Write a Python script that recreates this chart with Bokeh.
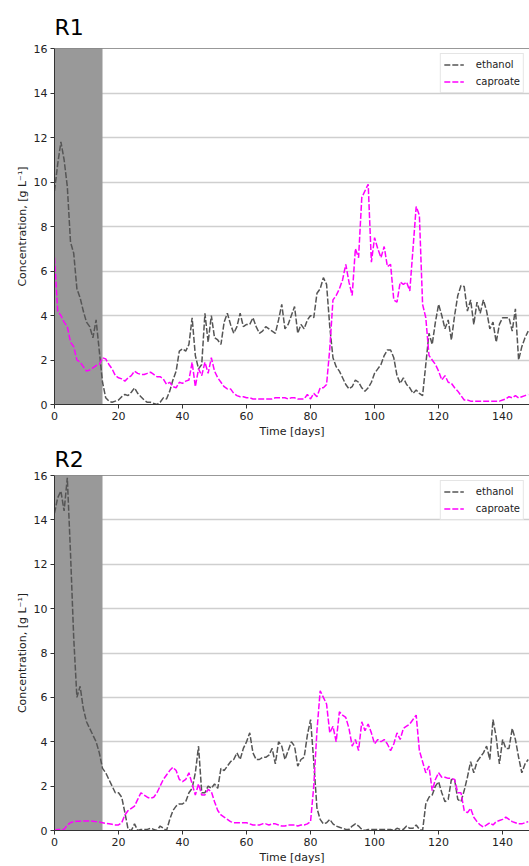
from bokeh.plotting import figure
from bokeh.layouts import column
from bokeh.models import Range1d, Span, FixedTicker
from bokeh.embed import file_html
from bokeh.resources import INLINE

# ---------------- data ----------------
days = list(range(149))

r1_ethanol = [
    9.6, 10.8, 11.8, 11.0, 9.8, 7.3, 6.8, 5.2, 4.8, 4.2,
    3.7, 3.5, 3.0, 3.8, 2.4, 1.0, 0.3, 0.15, 0.1, 0.15,
    0.2, 0.35, 0.45, 0.4, 0.55, 0.75, 0.5, 0.35, 0.2, 0.1,
    0.1, 0.05, 0.0, 0.1, 0.3, 0.25, 0.6, 1.1, 1.5, 2.4,
    2.5, 2.4, 2.7, 3.9, 2.2, 1.6, 1.8, 4.1, 2.8, 4.0,
    3.0, 2.9, 2.7, 3.7, 4.1, 3.6, 3.2, 3.5, 4.1, 3.5,
    3.6, 3.6, 3.9, 3.5, 3.2, 3.3, 3.5, 3.4, 3.3, 3.2,
    3.8, 4.5, 3.4, 3.6, 4.0, 4.4, 3.2, 3.6, 3.4, 3.8,
    4.0, 3.9, 5.0, 5.2, 5.7, 5.4, 3.5, 2.1, 1.7, 1.5,
    1.2, 0.9, 0.7, 0.8, 1.1, 1.0, 0.75, 0.6, 0.75, 1.0,
    1.4, 1.6, 1.8, 2.2, 2.45, 2.45, 2.1, 1.3, 0.95, 1.2,
    0.9, 0.75, 0.5, 0.65, 0.5, 0.4, 1.8, 3.2, 2.7, 3.7,
    4.5, 4.0, 3.4, 3.8, 2.9, 4.0, 4.9, 5.35, 5.3, 4.2,
    4.7, 3.6, 4.6, 4.1, 4.7, 4.2, 3.4, 3.7, 2.8, 3.6,
    3.9, 3.9, 3.9, 3.3, 4.3, 2.0, 2.6, 3.0, 3.3,
]

r1_caproate = [
    6.6, 4.2, 4.0, 3.7, 3.5, 2.8, 2.6, 2.0, 1.9, 1.7,
    1.5, 1.55, 1.65, 1.75, 1.8, 2.1, 2.05, 1.8, 1.6, 1.3,
    1.2, 1.15, 1.05, 1.2, 1.3, 1.5, 1.4, 1.35, 1.35, 1.4,
    1.45, 1.35, 1.25, 1.25, 1.15, 0.9, 1.0, 0.8, 0.75, 1.0,
    0.95, 1.05, 1.1, 1.9, 0.8, 1.6, 1.3, 1.9, 1.4, 2.1,
    1.5, 1.2, 1.0, 0.8, 0.7, 0.7, 0.5, 0.4, 0.35, 0.35,
    0.3, 0.3, 0.25, 0.25, 0.25, 0.25, 0.25, 0.25, 0.25, 0.3,
    0.3, 0.3, 0.3, 0.25, 0.3, 0.3, 0.25, 0.25, 0.25, 0.45,
    0.25, 0.5, 0.35, 0.75, 0.75, 0.9, 2.5, 4.7, 4.9, 5.2,
    5.6, 6.3, 5.5, 4.9, 7.0, 6.6, 9.3, 9.6, 9.9, 6.4,
    7.5, 7.0, 6.6, 7.1, 6.2, 6.3, 4.7, 4.6, 5.5, 5.4,
    5.5, 5.1, 7.0, 8.9, 8.5, 4.5, 3.9, 2.2, 2.0, 1.8,
    1.5, 1.1, 1.3, 1.0, 0.95, 0.75, 0.6, 0.4, 0.2, 0.2,
    0.15, 0.15, 0.15, 0.15, 0.15, 0.15, 0.15, 0.15, 0.15, 0.15,
    0.2, 0.25, 0.35, 0.3, 0.4, 0.3, 0.35, 0.4, 0.45,
]

r2_ethanol = [
    14.3, 15.0, 15.3, 14.4, 15.9, 12.5, 8.7, 6.0, 6.5, 5.5,
    4.9, 4.6, 4.3, 4.0, 3.5, 2.8, 2.6, 2.3, 2.0, 1.7,
    1.7, 1.5, 0.8, 0.05, 0.0, 0.3, 0.0, 0.05, 0.05, 0.05,
    0.1, 0.05, 0.0, 0.2, 0.1, 0.0, 0.5, 0.9, 1.1, 1.2,
    1.2, 1.3, 1.7, 1.9, 2.6, 3.8, 1.7, 1.7, 2.0, 1.9,
    2.1, 1.9, 2.8, 2.7, 2.9, 3.1, 3.2, 3.5, 3.2, 3.7,
    4.0, 4.4, 3.5, 3.2, 3.2, 3.3, 3.3, 3.4, 3.7, 3.0,
    4.0, 3.8, 3.2, 3.6, 4.0, 3.8, 2.9, 3.2, 3.3, 4.3,
    5.0, 3.1, 1.0, 0.5, 0.3, 0.35, 0.5, 0.3, 0.2, 0.15,
    0.1, 0.05, 0.05, 0.2, 0.3, 0.2, 0.05, 0.0, 0.05, 0.05,
    0.05, 0.05, 0.05, 0.05, 0.05, 0.05, 0.0, 0.1, 0.05, 0.05,
    0.2, 0.1, 0.1, 0.25, 0.05, 0.0, 1.2, 1.5, 1.6, 2.0,
    2.2, 1.7, 1.3, 1.4, 2.3, 2.3, 1.4, 1.3, 1.8, 2.4,
    3.1, 2.6, 3.1, 3.3, 3.5, 3.8, 3.2, 5.0, 4.2, 3.0,
    4.1, 3.7, 3.7, 4.6, 4.1, 3.3, 2.6, 3.0, 3.2,
]

r2_caproate = [
    0.0, 0.05, 0.05, 0.05, 0.25, 0.35, 0.4, 0.42, 0.42, 0.43,
    0.43, 0.43, 0.42, 0.4, 0.38, 0.35, 0.32, 0.3, 0.28, 0.25,
    0.25, 0.35, 0.7, 0.9, 1.0, 1.1, 1.4, 1.7, 1.6, 1.5,
    1.45, 1.5, 1.7, 2.0, 2.3, 2.5, 2.7, 2.85, 2.7, 2.3,
    2.2, 2.3, 2.6, 2.1, 1.6, 2.1, 1.6, 1.6, 1.85, 1.75,
    1.3, 0.9, 0.7, 0.6, 0.5, 0.4, 0.35, 0.35, 0.35, 0.35,
    0.35, 0.3, 0.25, 0.25, 0.25, 0.3, 0.3, 0.25, 0.3, 0.3,
    0.25, 0.2, 0.2, 0.25, 0.25, 0.25, 0.2, 0.25, 0.25, 0.3,
    0.4, 2.0, 4.5, 6.3, 6.0, 5.7, 4.4, 4.7, 4.0, 5.35,
    5.2, 5.1, 4.6, 3.8, 4.1, 3.6, 4.9, 4.5, 4.8, 4.4,
    3.9, 4.1, 4.0, 4.1, 3.9, 3.6, 3.9, 4.4, 4.1, 4.6,
    4.7, 4.8, 5.0, 5.2, 3.6, 3.1, 2.6, 2.9, 1.8, 2.3,
    2.6, 2.4, 2.4, 2.35, 2.35, 2.3, 1.7, 1.7, 0.9, 0.8,
    1.0, 0.6, 0.4, 0.25, 0.15, 0.25, 0.35, 0.25, 0.4, 0.45,
    0.5, 0.6, 0.5, 0.4, 0.35, 0.3, 0.3, 0.35, 0.4,
]

shade_start = 0
shade_end = 15
x_ticks = [0, 20, 40, 60, 80, 100, 120, 140]
y_ticks = [0, 2, 4, 6, 8, 10, 12, 14, 16]
x_min, x_max = 0, 148.4
y_min, y_max = 0, 16

FONT = "DejaVu Sans"
ETH_COLOR = "#555555"
CAP_COLOR = "#ff00ff"


def make_panel(title, eth, cap, height, border_top, border_bottom, title_standoff):
    p = figure(width=529, height=height, output_backend="svg", toolbar_location=None,
               x_range=Range1d(x_min, x_max), y_range=Range1d(y_min, y_max),
               min_border_left=54, min_border_right=0,
               min_border_top=border_top, min_border_bottom=border_bottom)
    p.title.text = title
    p.title.text_font = FONT
    p.title.text_font_size = "22px"
    p.title.text_font_style = "normal"
    p.title.text_color = "#000000"
    p.title.text_line_height = 1.0
    p.title.align = "left"
    p.title.standoff = title_standoff

    p.outline_line_color = None
    p.background_fill_color = "white"
    p.border_fill_color = "white"

    p.xgrid.visible = False
    p.ygrid.grid_line_color = "#cfcfcf"
    p.ygrid.grid_line_width = 1.5
    p.ygrid.ticker = FixedTicker(ticks=y_ticks)

    p.quad(left=[shade_start], right=[shade_end], bottom=[y_min], top=[y_max],
           fill_color="#999999", line_color=None)

    p.line(days, eth, line_color=ETH_COLOR, line_width=1.5, line_dash="6 2",
           legend_label="ethanol")
    p.line(days, cap, line_color=CAP_COLOR, line_width=1.5, line_dash="6 2",
           legend_label="caproate")

    p.add_layout(Span(location=y_max, dimension="width", line_color="#333333",
                      line_width=1))

    p.xaxis.ticker = FixedTicker(ticks=x_ticks)
    p.yaxis.ticker = FixedTicker(ticks=y_ticks)
    p.xaxis.axis_label = "Time [days]"
    p.yaxis.axis_label = "Concentration, [g L\u207b\u00b9]"
    for ax in (p.xaxis[0], p.yaxis[0]):
        ax.axis_line_color = "#333333"
        ax.major_tick_line_color = "#333333"
        ax.major_tick_out = 4
        ax.major_tick_in = 0
        ax.minor_tick_line_color = None
        ax.major_label_text_font = FONT
        ax.major_label_text_font_size = "11px"
        ax.major_label_text_color = "#222222"
        ax.axis_label_text_font = FONT
        ax.axis_label_text_font_size = "11px"
        ax.axis_label_text_font_style = "normal"
        ax.axis_label_text_color = "#222222"
        ax.major_label_standoff = 3
        ax.axis_label_standoff = 2

    lg = p.legend[0]
    lg.location = "top_right"
    lg.margin = 5
    lg.padding = 3
    lg.spacing = 2
    lg.glyph_width = 20
    lg.glyph_height = 15
    lg.label_standoff = 12
    lg.label_height = 15
    lg.label_text_font = FONT
    lg.label_text_font_size = "10px"
    lg.label_text_color = "#222222"
    lg.border_line_color = "#cccccc"
    lg.background_fill_alpha = 0.85
    return p


p1 = make_panel("R1", r1_ethanol, r1_caproate, 440, 48, 36, 18)
p2 = make_panel("R2", r2_ethanol, r2_caproate, 426, 35, 34, 8)

layout = column(p1, p2, spacing=0)
open("out.html", "w").write(file_html(layout, INLINE))
